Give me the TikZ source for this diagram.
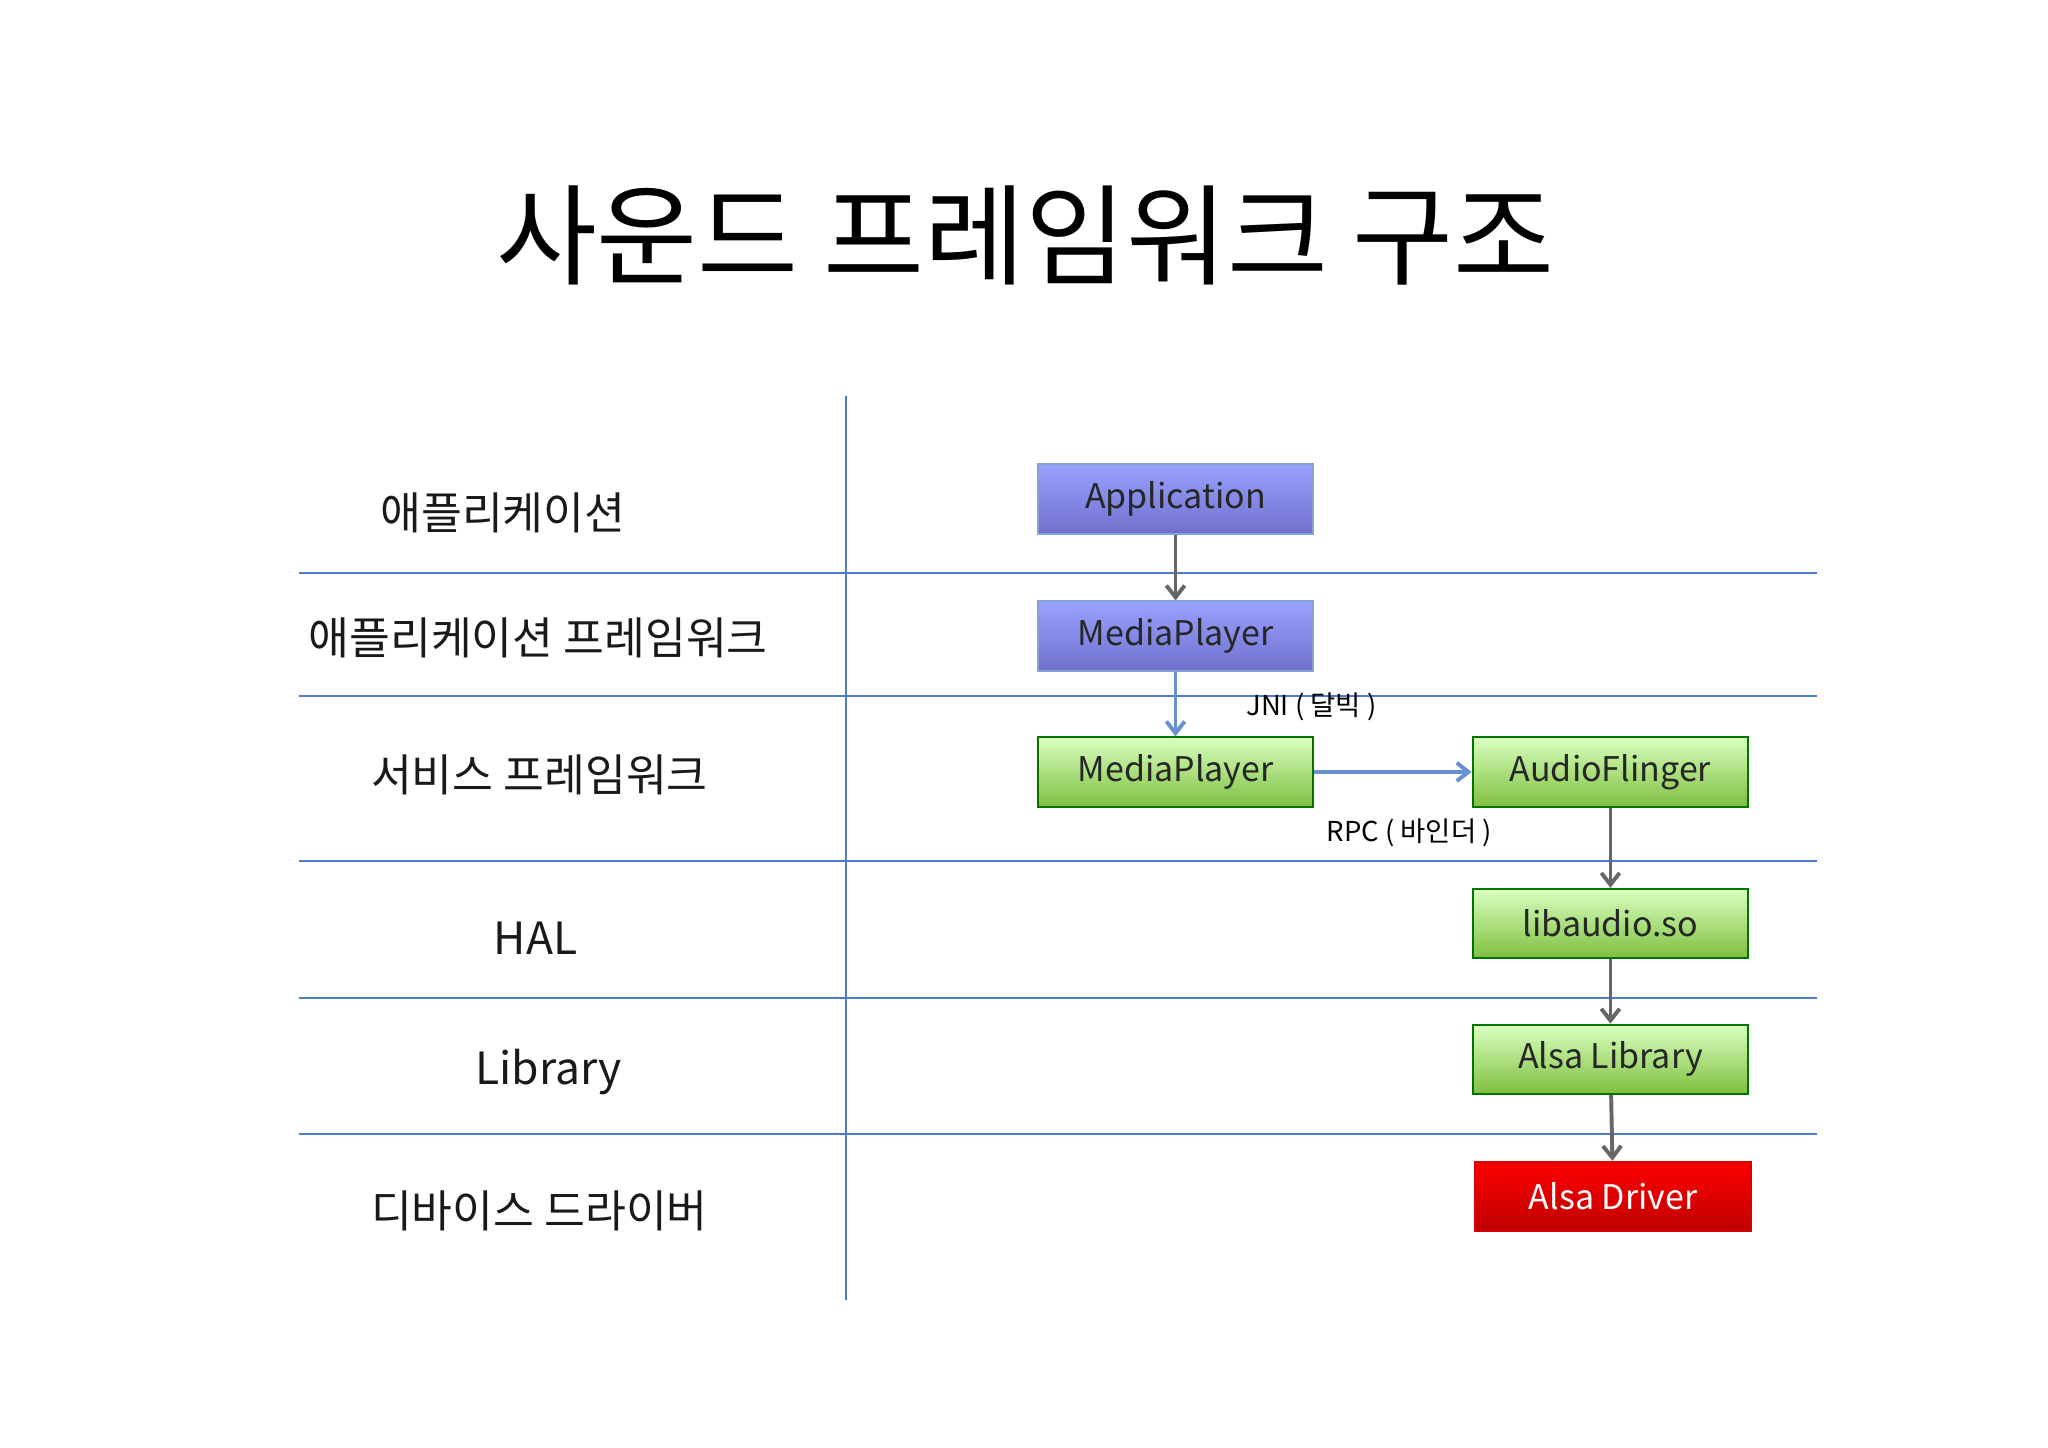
\documentclass[tikz,border=0pt]{standalone}
\usepackage{fontspec}
\setmainfont{Noto Sans CJK KR}
\usetikzlibrary{arrows.meta}
\definecolor{lineblue}{HTML}{4F7CC8}
\tikzset{
 box/.style={draw, line width=1.5pt, minimum width=211pt, minimum height=53pt, inner sep=0pt, font=\fontsize{26}{30}\selectfont},
 bluebox/.style={box, draw=lineblue!70, top color=blue!20!cyan!10!blue!40!white, bottom color=blue!45!white!80!black, text=black!85},
 greenbox/.style={box, draw=green!45!black, top color=green!60!yellow!25!white, bottom color=green!50!yellow!50!gray, text=black!85},
 redbox/.style={box, draw=red!85!black, top color=red, bottom color=red!75!black, text=white},
 sep/.style={lineblue, line width=1.5pt},
 lbl/.style={font=\fontsize{34}{40}\selectfont, text=black!90},
 garr/.style={-{Straight Barb[length=9pt,width=14pt]}, gray!80!black, line width=3pt},
 barr/.style={-{Straight Barb[length=9pt,width=14pt]}, lineblue!85, line width=3pt},
 small/.style={font=\fontsize{21}{24}\selectfont}
}
\begin{document}
\begin{tikzpicture}[x=1pt,y=-1pt]
\useasboundingbox (0,0) rectangle (1568,1108);
\node[font=\fontsize{84}{90}\selectfont] (title) at (785,180) {사운드 프레임워크 구조};
\coordinate (vt) at (648,303); \coordinate (vb) at (648,995);
\draw[sep] (vt) -- (vb);
\foreach \y/\n in {439/a,533/b,659/c,764/d,868/e}{
 \coordinate (l\n) at (229,\y); \coordinate (r\n) at (1391,\y);
 \draw[sep] (l\n) -- (r\n);}
\node[lbl] (t1) at (385,393) {애플리케이션};
\node[lbl] (t2) at (412,488) {애플리케이션 프레임워크};
\node[lbl] (t3) at (413,593) {서비스 프레임워크};
\node[lbl] (t4) at (410,718) {HAL};
\node[lbl] (t5) at (420,821) {Library};
\node[lbl] (t6) at (413,927) {디바이스 드라이버};
\node[bluebox] (app) at (900,382) {Application};
\node[bluebox] (mp1) at (900,487) {MediaPlayer};
\node[greenbox] (mp2) at (900,591) {MediaPlayer};
\node[greenbox] (af) at (1233,591) {AudioFlinger};
\node[greenbox] (lib) at (1233,707) {libaudio.so};
\node[greenbox] (alsa) at (1233,811) {Alsa Library};
\node[redbox] (drv) at (1235,916) {Alsa Driver};
\draw[garr] (app) -- (mp1);
\draw[barr] (mp1) -- (mp2);
\draw[barr] (mp2) -- (af);
\draw[garr] (af) -- (lib);
\draw[garr] (lib) -- (alsa);
\draw[garr] (alsa) -- (drv);
\node[small] (jni) at (1004,541) {JNI ( 달빅 )};
\node[small] (rpc) at (1079,638) {RPC ( 바인더 )};
\end{tikzpicture}
\end{document}
